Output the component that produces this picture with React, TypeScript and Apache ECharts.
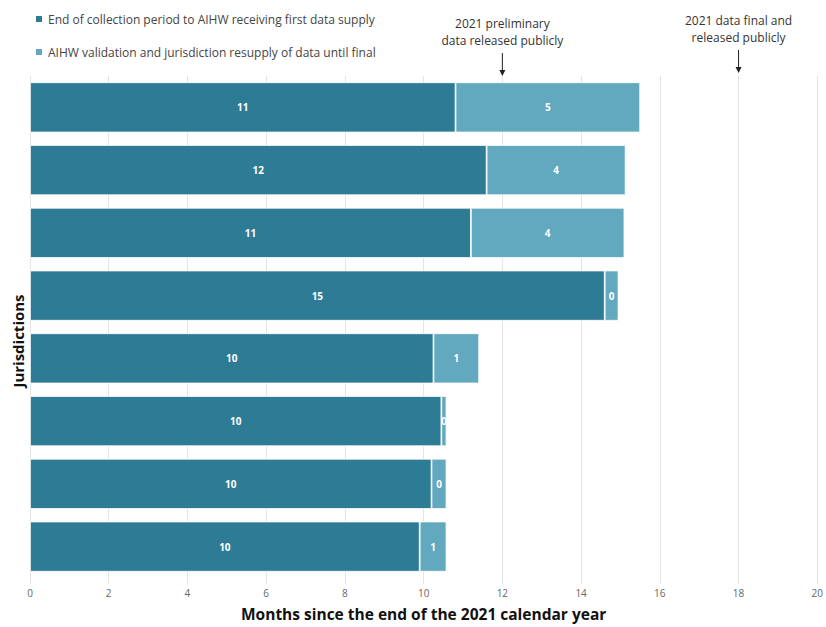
import React, { useEffect, useRef } from "react";
import * as echarts from "echarts";

const categories = ["J1", "J2", "J3", "J4", "J5", "J6", "J7", "J8"];
const firstSupply = [10.81, 11.6, 11.2, 14.6, 10.25, 10.45, 10.2, 9.9];
const validation = [4.69, 3.53, 3.9, 0.35, 1.16, 0.13, 0.38, 0.68];
const seriesNames = [
  "End of collection period to AIHW receiving first data supply",
  "AIHW validation and jurisdiction resupply of data until final",
];
const annotations = [
  { month: 12, lines: ["2021 preliminary", "data released publicly"], top: 15 },
  { month: 18, lines: ["2021 data final and", "released publicly"], top: 12 },
];

const DARK = "#2e7b96";
const LIGHT = "#62a8bf";
const FONT = "'Open Sans', 'Noto Sans', sans-serif";

export default function App() {
  const ref = useRef<HTMLDivElement>(null);
  useEffect(() => {
    const chart = echarts.init(ref.current!, null, { renderer: "svg" });
    const label = {
      show: true,
      position: "inside",
      color: "#fff",
      fontSize: 10,
      fontWeight: "bold",
      fontFamily: FONT,
      formatter: (p: any) => String(Math.round(p.value)),
    };
    chart.setOption({
      animation: false,
      textStyle: { fontFamily: FONT },
      legend: {
        orient: "vertical",
        left: 29,
        top: 8,
        itemWidth: 8,
        itemHeight: 8,
        itemGap: 21,
        icon: "rect",
        textStyle: { fontSize: 12, color: "#444", fontFamily: FONT },
        data: seriesNames,
      },
      grid: { left: 30, right: 4, top: 76, bottom: 44, containLabel: false },
      xAxis: {
        type: "value",
        min: 0,
        max: 20,
        interval: 2,
        name: "Months since the end of the 2021 calendar year",
        nameLocation: "middle",
        nameGap: 28,
        nameTextStyle: { fontSize: 15.5, fontWeight: "bold", color: "#111", fontFamily: FONT },
        axisLine: { show: false },
        axisTick: { show: true, length: 6, lineStyle: { color: "#e4e4e4" } },
        axisLabel: { fontSize: 10, color: "#666", margin: 10 },
        splitLine: { show: true, lineStyle: { color: "#e4e4e4", width: 1 } },
      },
      yAxis: {
        type: "category",
        data: categories,
        inverse: true,
        axisLine: { show: false },
        axisTick: { show: false },
        axisLabel: { show: false },
      },
      series: [
        {
          name: seriesNames[0],
          type: "bar",
          stack: "total",
          data: firstSupply,
          barCategoryGap: "20%",
          itemStyle: { color: DARK, borderColor: "#fff", borderWidth: 0.8 },
          label,
        },
        {
          name: seriesNames[1],
          type: "bar",
          stack: "total",
          data: validation,
          itemStyle: { color: LIGHT, borderColor: "#fff", borderWidth: 0.8 },
          label,
        },
      ],
    });
    const graphics: any[] = [
      {
        type: "text",
        x: 18,
        y: 341,
        rotation: Math.PI / 2,
        style: {
          text: "Jurisdictions",
          align: "center",
          verticalAlign: "middle",
          fontSize: 15,
          fontWeight: "bold",
          fill: "#111",
          fontFamily: FONT,
        },
      },
    ];
    annotations.forEach((a) => {
      const x = chart.convertToPixel({ xAxisIndex: 0 }, a.month) as number;
      graphics.push({
        type: "text",
        x,
        y: a.top,
        style: {
          text: a.lines.join("\n"),
          align: "center",
          verticalAlign: "top",
          fontSize: 12,
          lineHeight: 17,
          fill: "#333",
          fontFamily: FONT,
        },
      });
      const y0 = a.top + 38;
      const y1 = a.top + 61;
      graphics.push({
        type: "line",
        shape: { x1: x, y1: y0, x2: x, y2: y1 - 4 },
        style: { stroke: "#222", lineWidth: 1 },
      });
      graphics.push({
        type: "polygon",
        shape: { points: [[x - 3, y1 - 6], [x + 3, y1 - 6], [x, y1]] },
        style: { fill: "#222" },
      });
    });
    chart.setOption({ graphic: graphics });
    return () => chart.dispose();
  }, []);
  return <div ref={ref} style={{ width: 826, height: 627, position: "absolute", left: 0, top: 0 }} />;
}
